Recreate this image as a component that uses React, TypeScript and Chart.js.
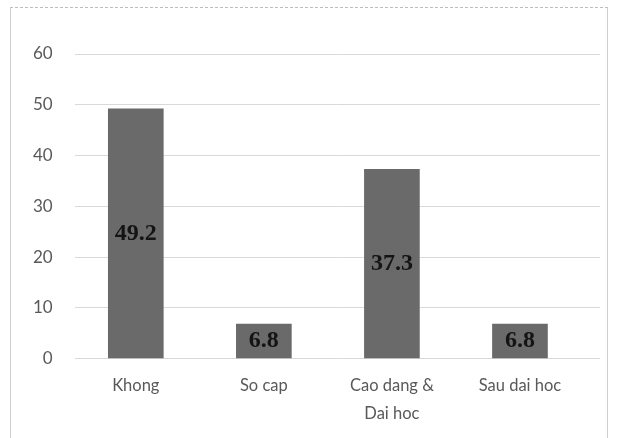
import React, { useEffect, useRef } from "react";
import { Chart, registerables } from "chart.js";

Chart.register(...registerables);

const categories: (string | string[])[] = ["Khong", "So cap", ["Cao dang &", "Dai hoc"], "Sau dai hoc"];
const values: number[] = [49.2, 6.8, 37.3, 6.8];
const yTicks: number[] = [0, 10, 20, 30, 40, 50, 60];

const labelPlugin = {
  id: "centerLabels",
  afterDatasetsDraw(chart: any) {
    const ctx = chart.ctx;
    const meta = chart.getDatasetMeta(0);
    ctx.save();
    ctx.font = "bold 24px 'Liberation Serif', serif";
    ctx.fillStyle = "#141414";
    ctx.textAlign = "center";
    ctx.textBaseline = "middle";
    meta.data.forEach((bar: any, i: number) => {
      const v = values[i];
      const cy = (bar.y + bar.base) / 2;
      ctx.fillText(v.toFixed(1), bar.x, cy);
    });
    ctx.restore();
  },
};

export default function App() {
  const ref = useRef<HTMLCanvasElement | null>(null);
  useEffect(() => {
    if (!ref.current) return;
    const chart = new Chart(ref.current, {
      type: "bar",
      data: {
        datasets: [
          {
            data: values.map((v, i) => ({ x: i, y: v })),
            backgroundColor: "#6a6a6a",
            barThickness: 55,
          },
        ],
      },
      options: {
        animation: false,
        responsive: false,
        maintainAspectRatio: false,
        layout: { padding: { left: 0, right: 7, top: 46, bottom: 15 } },
        plugins: { legend: { display: false }, tooltip: { enabled: false } },
        scales: {
          x: {
            type: "linear",
            offset: false,
            min: -0.477,
            max: 3.625,
            afterBuildTicks: (scale: any) => {
              scale.ticks = categories.map((_, i) => ({ value: i }));
            },
            grid: { display: false, offset: false },
            border: { display: false },
            ticks: {
              autoSkip: false,
              maxRotation: 0,
              padding: 6,
              color: "#595959",
              font: { family: "Lato, 'Open Sans', sans-serif", size: 16.5, lineHeight: 1.65 },
              callback: (v: any) => categories[Number(v)] as any,
            },
          },
          y: {
            min: 0,
            max: 60,
            afterBuildTicks: (scale: any) => {
              scale.ticks = yTicks.map((v) => ({ value: v }));
            },
            grid: { color: "#d9d9d9", drawTicks: false },
            border: { display: false },
            ticks: {
              padding: 22,
              color: "#595959",
              font: { family: "Lato, 'Open Sans', sans-serif", size: 17 },
            },
          },
        },
      },
      plugins: [labelPlugin],
    } as any);
    return () => chart.destroy();
  }, []);
  return (
    <div
      style={{
        position: "absolute",
        left: 10,
        top: 7,
        width: 596,
        height: 440,
        borderLeft: "1px solid #cfcfcf",
        borderRight: "1px solid #cfcfcf",
        borderTop: "1px dashed #bdbdbd",
        background: "#fff",
      }}
    >
      <canvas ref={ref} width={596} height={440} style={{ display: "block" }} />
    </div>
  );
}
